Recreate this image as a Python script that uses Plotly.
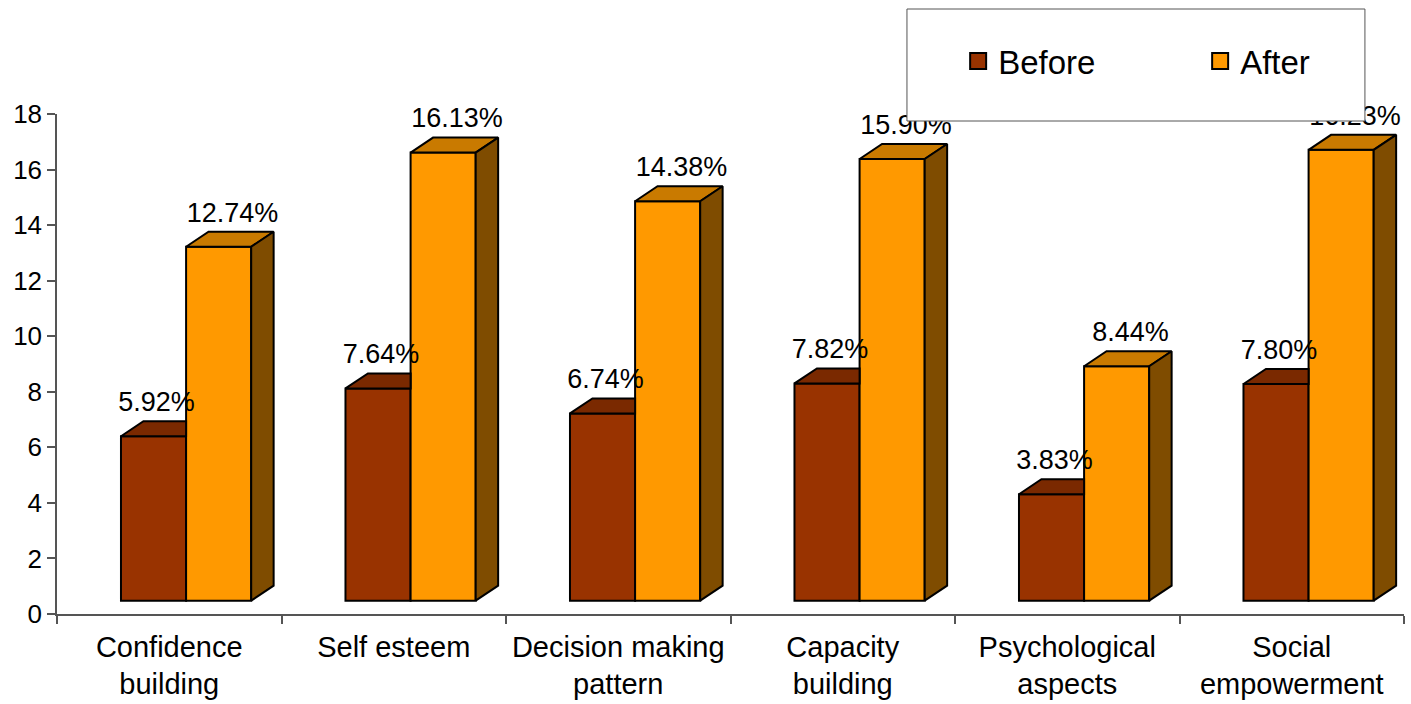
import plotly.graph_objects as go

# ---- data ----
categories = ["Confidence<br>building", "Self esteem", "Decision making<br>pattern",
              "Capacity<br>building", "Psychological<br>aspects", "Social<br>empowerment"]
before = [5.92, 7.64, 6.74, 7.82, 3.83, 7.80]
after = [12.74, 16.13, 14.38, 15.90, 8.44, 16.23]
y_ticks = [0, 2, 4, 6, 8, 10, 12, 14, 16, 18]

# ---- pseudo-3D geometry (data units) ----
FLOOR = 0.48        # front-face floor
BAR_W = 0.29
OFF_BEFORE = -0.215
OFF_AFTER = 0.075
DX, DY = 0.1, 0.54  # depth projection
LABEL_GAP = 1.15

C_BEFORE, C_BEFORE_TOP = "#993300", "#7A2900"
C_AFTER, C_AFTER_TOP, C_AFTER_SIDE = "#FF9900", "#C97A00", "#7F4C00"
FONT = "Liberation Sans, Arial, sans-serif"

xs = list(range(len(categories)))
fig = go.Figure()

# Before: front faces
fig.add_trace(go.Bar(x=xs, y=before, base=FLOOR, offset=OFF_BEFORE, width=BAR_W,
                     marker=dict(color=C_BEFORE, line=dict(color="black", width=2)),
                     showlegend=False, hoverinfo="skip"))
# After: front faces
fig.add_trace(go.Bar(x=xs, y=after, base=FLOOR, offset=OFF_AFTER, width=BAR_W,
                     marker=dict(color=C_AFTER, line=dict(color="black", width=2)),
                     showlegend=False, hoverinfo="skip"))


def poly_trace(px, py, color):
    return go.Scatter(x=px, y=py, mode="lines", fill="toself", fillcolor=color,
                      line=dict(color="black", width=2), showlegend=False,
                      hoverinfo="skip", cliponaxis=False)


# Before: visible part of the top face (rest sits behind the After column)
bx, by = [], []
for i, v in zip(xs, before):
    x0 = i + OFF_BEFORE
    x1 = x0 + BAR_W
    h = FLOOR + v
    bx += [x0, x0 + DX, x1, x1, x0, None]
    by += [h, h + DY, h + DY, h, h, None]
fig.add_trace(poly_trace(bx, by, C_BEFORE_TOP))

# After: top and side faces
tx, ty, sx, sy = [], [], [], []
for i, v in zip(xs, after):
    x0 = i + OFF_AFTER
    x1 = x0 + BAR_W
    h = FLOOR + v
    tx += [x0, x0 + DX, x1 + DX, x1, x0, None]
    ty += [h, h + DY, h + DY, h, h, None]
    sx += [x1, x1 + DX, x1 + DX, x1, x1, None]
    sy += [FLOOR, FLOOR + DY, h + DY, h, FLOOR, None]
fig.add_trace(poly_trace(tx, ty, C_AFTER_TOP))
fig.add_trace(poly_trace(sx, sy, C_AFTER_SIDE))

# value labels
fig.add_trace(go.Scatter(
    x=[i + OFF_BEFORE + BAR_W / 2 + 0.013 for i in xs],
    y=[FLOOR + v + LABEL_GAP for v in before],
    text=[f"{v:.2f}%" for v in before], mode="text", textposition="middle center",
    textfont=dict(family=FONT, size=27, color="black"),
    showlegend=False, hoverinfo="skip", cliponaxis=False))
fig.add_trace(go.Scatter(
    x=[i + OFF_AFTER + BAR_W / 2 + 0.062 for i in xs],
    y=[FLOOR + v + LABEL_GAP for v in after],
    text=[f"{v:.2f}%" for v in after], mode="text", textposition="middle center",
    textfont=dict(family=FONT, size=27, color="black"),
    showlegend=False, hoverinfo="skip", cliponaxis=False))

# legend entries
for name, col in [("Before", C_BEFORE), ("After", C_AFTER)]:
    fig.add_trace(go.Scatter(x=[None], y=[None], mode="markers", name=name,
                             marker=dict(symbol="square", size=16, color=col,
                                         line=dict(color="black", width=2))))

# legend frame
fig.add_shape(type="rect", xref="paper", yref="paper",
              x0=0.631, x1=0.971, y0=0.986, y1=1.21,
              fillcolor="white", line=dict(color="#555555", width=1), layer="above")

fig.update_layout(
    width=1411, height=704,
    margin=dict(l=57, r=7, t=114, b=90, autoexpand=False),
    paper_bgcolor="white", plot_bgcolor="white",
    barmode="overlay",
    font=dict(family=FONT, color="black"),
    showlegend=True,
    legend=dict(orientation="h", x=0.669, xanchor="left", y=1.106, yanchor="middle",
                bgcolor="rgba(0,0,0,0)", borderwidth=0,
                font=dict(family=FONT, size=33, color="black"),
                entrywidthmode="pixels", entrywidth=197, itemclick=False),
    xaxis=dict(range=[-0.5, 5.5], tickmode="array", tickvals=xs, ticktext=categories,
               ticks="outside", ticklen=6, tickcolor="rgba(0,0,0,0)",
               tickfont=dict(family=FONT, size=29, color="black"),
               showline=True, linecolor="#555555", linewidth=1.5,
               showgrid=False, zeroline=False,
               minor=dict(ticks="outside", tickmode="linear", tick0=0.5, dtick=1,
                          ticklen=8, tickcolor="#555555", tickwidth=1.5, showgrid=False)),
    yaxis=dict(range=[0, 18], tickmode="array", tickvals=y_ticks,
               ticks="outside", ticklen=8, tickcolor="#555555", tickwidth=1.5,
               tickfont=dict(family=FONT, size=26, color="black"),
               showline=True, linecolor="#555555", linewidth=1.5,
               showgrid=False, zeroline=False),
)

fig.write_html("out.html")
